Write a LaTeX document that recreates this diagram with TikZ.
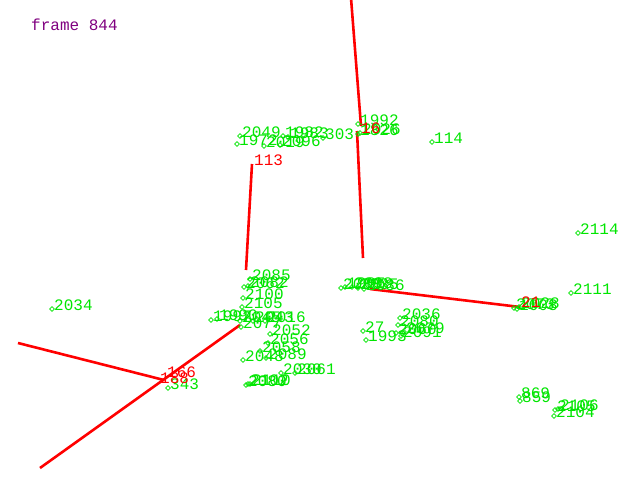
\documentclass[tikz,border=0pt]{standalone}
\usepackage{fontspec}
\newfontfamily\plotfont{Liberation Mono}
\usetikzlibrary{shapes.geometric}
\definecolor{trackred}{RGB}{255, 0, 0}
\definecolor{pointgreen}{RGB}{0, 230, 0}
\definecolor{framepurple}{RGB}{128, 0, 128}
\tikzstyle{ptmark} = [
  diamond,
  draw=pointgreen,
  line width=0.6pt,
  inner sep=0pt,
  minimum size=5pt,
]
\tikzstyle{ptlabel} = [
  text=pointgreen,
  inner sep=0pt,
  anchor=base west,
  font=\plotfont\fontsize{16}{16}\selectfont,
]
\tikzstyle{redlabel} = [
  ptlabel,
  text=trackred,
]
\tikzstyle{track} = [
  draw=trackred,
  line width=2.6pt,
]

\begin{document}
\begin{tikzpicture}[x=1pt, y=-1pt]
            \useasboundingbox[fill=white] (0,0) rectangle (640,480);

            % Frame counter
            \node[ptlabel, text=framepurple] (frame) at (31,30) {frame 844};

            % Track end points
            \coordinate (r17) at (351,-2);
            \coordinate (r17b) at (361,126);
            \coordinate (r16) at (357,131);
            \coordinate (r16b) at (363,258);
            \coordinate (r113) at (252,164);
            \coordinate (r113b) at (246,270);
            \coordinate (r21) at (520,307);
            \coordinate (r21b) at (370,289);
            \coordinate (r166) at (164,380);
            \coordinate (r166a) at (18,343);
            \coordinate (r166b) at (240,325);
            \coordinate (r188) at (40,468);

            % Tracks
            \draw[track] (r17) -- (r17b);
            \draw[track] (r16) -- (r16b);
            \draw[track] (r113) -- (r113b);
            \draw[track] (r21) -- (r21b);
            \draw[track] (r166a) -- (r166);
            \draw[track] (r188) -- (r166b);

            % Points
            \foreach \x/\y/\t in {
                52/309/2034, 578/233/2114, 571/293/2111, 432/142/114,
                358/124/1992, 360/133/2026, 358/134/1826, 323/138/303,
                240/136/2049, 283/136/1982, 288/137/1983, 237/144/1972,
                264/146/2019, 280/145/2096,
                514/308/2073, 517/309/1008, 519/307/2028,
                519/397/869, 520/401/859,
                555/410/2105, 558/409/2106, 554/416/2104,
                341/288/2088, 345/287/1985, 352/287/2098, 358/288/2035,
                364/289/2086,
                400/318/2036, 398/325/2080, 396/333/2060, 404/332/2079,
                401/336/2091, 363/331/27, 366/340/1993,
                250/279/2085, 244/287/2062, 248/286/2082, 243/298/2100,
                242/307/2105, 211/320/1997, 217/319/1990, 240/321/2045,
                253/321/2043, 265/321/2016, 241/327/2077,
                270/334/2052, 268/343/2056, 260/351/2058, 266/358/2089,
                243/360/2048, 281/373/2030, 295/373/2061,
                248/384/2102, 250/384/2110, 246/385/2080, 168/388/343}
            {
                \node[ptmark] (p\t) at (\x,\y) {};
                \node[ptlabel] (l\t) at ([shift={(2,1)}]p\t.center) {\t};
            }

            % Track labels
            \node[redlabel] (l17) at ([shift={(2,1)}]r17) {11};
            \node[redlabel] (l16) at ([shift={(4,2)}]r16) {16};
            \node[redlabel] (l113) at ([shift={(2,1)}]r113) {113};
            \node[redlabel] (l21) at ([shift={(1,0)}]r21) {21};
            \node[redlabel] (l166) at ([shift={(3,-3)}]r166) {166};
            \node[redlabel] (l188) at ([shift={(-4,3)}]r166) {188};
          \end{tikzpicture}
\end{document}
